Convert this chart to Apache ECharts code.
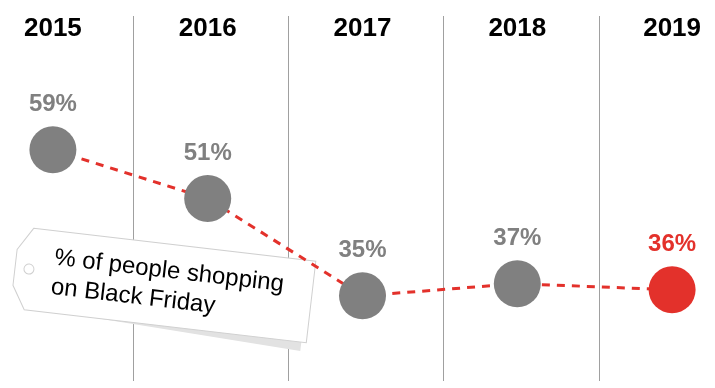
<!DOCTYPE html>
<html>
<head>
<meta charset="utf-8">
<script src="https://cdn.jsdelivr.net/npm/echarts@6/dist/echarts.min.js"></script>
<style>
html,body{margin:0;padding:0;background:#fff;}
#chart{width:715px;height:388px;}
</style>
</head>
<body>
<div id="chart"></div>
<script>
// Data
var years = ['2015', '2016', '2017', '2018', '2019'];
var shares = [59, 51, 35, 37, 36];
var highlightIndex = 4;
var tagLines = ['% of people shopping', 'on Black Friday'];

var GRAY = '#808080';
var RED = '#e3312b';
var FONT = '"Liberation Sans", Arial, Helvetica, sans-serif';

var chart = echarts.init(document.getElementById('chart'), null, {renderer: 'canvas'});

var seriesData = shares.map(function (v, i) {
  var hl = i === highlightIndex;
  return {
    value: v,
    itemStyle: {color: hl ? RED : GRAY},
    label: {color: hl ? RED : GRAY}
  };
});

var tagShape = [[-142, -41], [142, -41], [142, 41], [-142, 41], [-156, 18], [-156, -18]];
var shadowShape = [[-70, 30], [137, 30], [137, 50], [-70, 41]];

var option = {
  animation: false,
  backgroundColor: '#ffffff',
  grid: [
    {left: -24.5, width: 774, top: 16, bottom: 7, containLabel: false, outerBoundsMode: 'none'},
    {left: -22, width: 776, top: 16, bottom: 7, containLabel: false, outerBoundsMode: 'none'}
  ],
  xAxis: [{
    type: 'category',
    gridIndex: 0,
    data: years,
    position: 'top',
    boundaryGap: true,
    z: 0,
    axisLine: {show: false},
    axisTick: {show: false},
    axisLabel: {
      inside: true,
      margin: 0,
      fontFamily: FONT,
      fontSize: 26,
      fontWeight: 'bold',
      color: '#000'
    },
    splitLine: {show: false}
  }, {
    type: 'category',
    gridIndex: 1,
    data: years,
    position: 'top',
    boundaryGap: true,
    z: 0,
    axisLine: {show: false},
    axisTick: {show: false},
    axisLabel: {show: false},
    splitLine: {show: true, lineStyle: {color: '#a0a0a0', width: 1}}
  }],
  yAxis: [{
    type: 'value',
    gridIndex: 0,
    min: 21,
    max: 81,
    show: false,
    splitLine: {show: false}
  }, {
    type: 'value',
    gridIndex: 1,
    min: 0,
    max: 1,
    show: false,
    splitLine: {show: false}
  }],
  graphic: [{
    type: 'group',
    x: 170,
    y: 285.5,
    rotation: -0.116,
    z: 1,
    children: [
      {
        type: 'polygon',
        z: 1,
        shape: {points: shadowShape},
        style: {fill: '#e2e2e2'}
      },
      {
        type: 'polygon',
        z: 2,
        shape: {points: tagShape},
        style: {fill: '#ffffff', stroke: '#d0d0d0', lineWidth: 1}
      },
      {
        type: 'circle',
        z: 3,
        shape: {cx: -142, cy: 0, r: 5},
        style: {fill: '#fff', stroke: '#d0d0d0', lineWidth: 1}
      },
      {
        type: 'text',
        z: 3,
        x: -118,
        y: 0.7,
        style: {
          text: tagLines.join('\n'),
          font: '24px ' + FONT,
          fill: '#000',
          lineHeight: 29.5,
          align: 'left',
          verticalAlign: 'middle'
        }
      }
    ]
  }],
  series: [{
    type: 'line',
    xAxisIndex: 0,
    yAxisIndex: 0,
    z: 5,
    data: seriesData,
    symbol: 'circle',
    symbolSize: 47,
    lineStyle: {color: RED, width: 3, type: [8, 7]},
    label: {
      show: true,
      position: 'top',
      distance: 10,
      formatter: '{c}%',
      fontFamily: FONT,
      fontSize: 24,
      fontWeight: 'bold'
    }
  }]
};

chart.setOption(option);
</script>
</body>
</html>
